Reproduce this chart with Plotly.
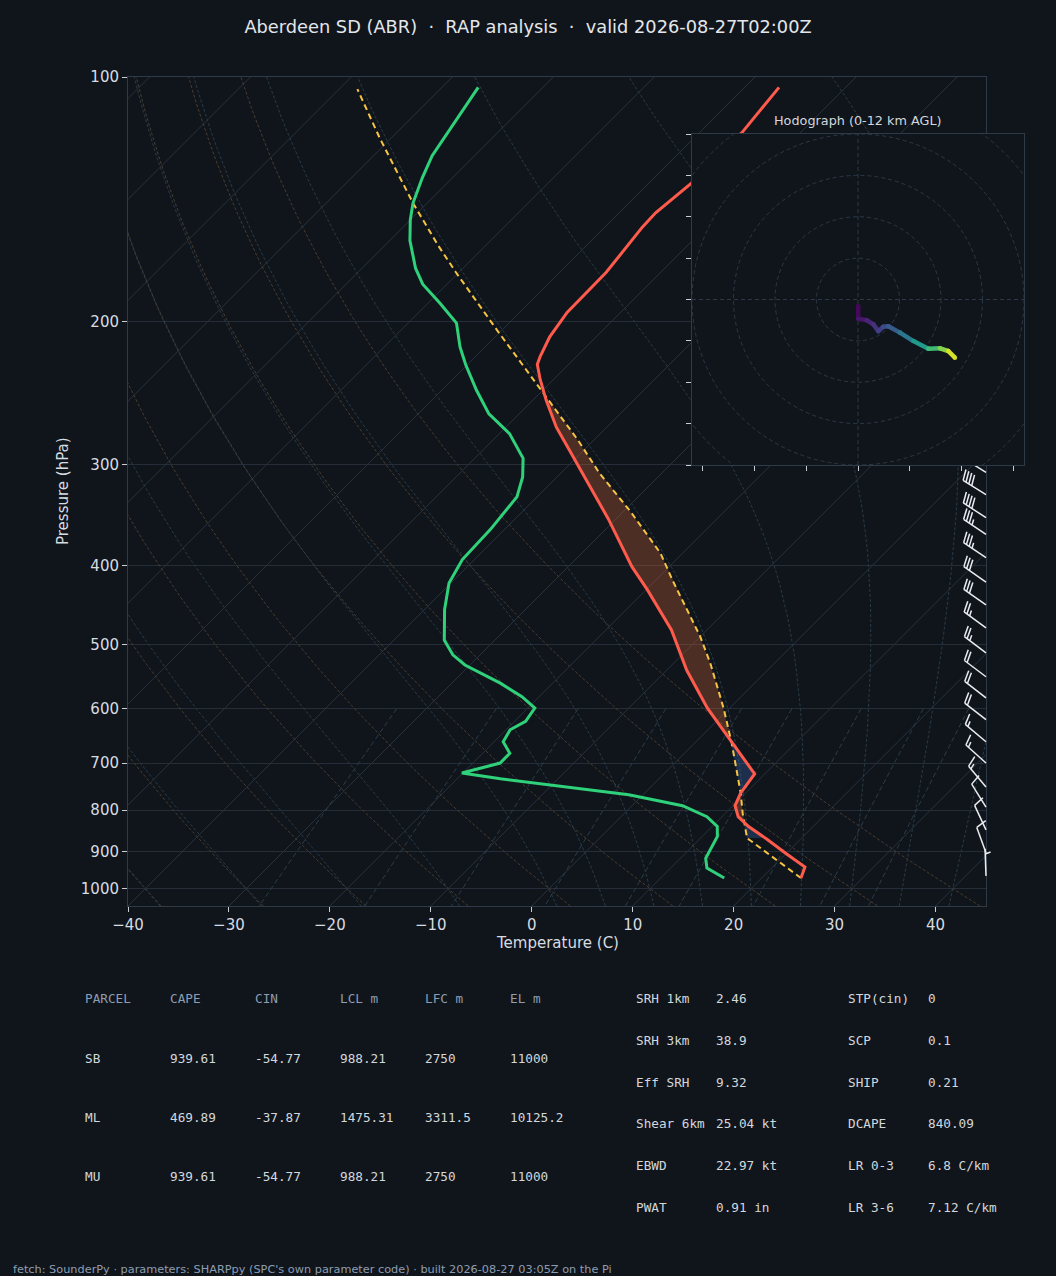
import numpy as np
import plotly.graph_objects as go
from plotly.colors import sample_colorscale

# ---- sounding (hPa, degC) ----
t_pres = [970, 940, 906, 870, 838, 815, 790, 762, 722, 655, 599, 538, 480, 428, 401,
          350, 314, 308, 291, 280, 270, 250, 236, 226, 221, 209, 195, 174, 153, 147,
          135, 117, 103]
t_temp = [23.9, 23.2, 20.1, 16.8, 13.6, 11.6, 10.2, 9.5, 9.0, 3.2, -2.2, -8.0, -13.5, -19.9, -23.7,
          -30.8, -36.8, -37.8, -40.9, -43.0, -45.0, -48.7, -51.3, -53.1, -53.6, -54.6, -55.3, -55.4, -56.3, -56.4,
          -55.8, -55.8, -56.6]

td_pres = [970, 943, 917, 862, 838, 815, 790, 766, 732, 720, 700, 681, 659, 637, 622,
           599, 580, 558, 530, 515, 494, 453, 420, 393, 361, 329, 311, 295, 275, 260,
           243, 226, 215, 201, 190, 180, 172, 159, 150, 143, 133, 125, 103]
td_temp = [16.3, 13.6, 12.5, 11.5, 10.5, 8.5, 5.0, -1.4, -15.7, -20.1, -17.3, -17.3, -19.1, -19.6, -18.9,
           -19.3, -21.7, -25.2, -30.5, -32.7, -35.0, -38.0, -40.2, -41.2, -41.4, -42.0, -43.4, -45.2, -49.0, -53.0,
           -56.6, -60.2, -62.5, -65.2, -68.8, -72.4, -74.7, -78.0, -80.0, -81.4, -83.0, -84.2, -86.4]

par_pres = [970, 866, 807, 762, 662, 599, 527, 489, 417, 386, 343, 308, 280, 245, 205,
            174, 161, 143, 119, 103.5]
par_temp = [23.9, 14.6, 11.7, 9.5, 3.7, -0.6, -6.4, -10.0, -18.3, -22.2, -29.3, -36.1, -41.6, -49.7, -60.5,
            -70.3, -74.8, -81.4, -91.1, -98.2]
lcl_pres = 866

# wind barbs (hPa, kt, deg)
barb_pres = [964, 903, 846, 793, 749, 700, 659, 619, 582, 548, 512, 477, 447, 419, 391, 366,
             349, 327, 307, 287, 269, 252, 236, 221, 207, 194, 182, 170, 160, 149, 140, 131]
barb_spd = [5, 10, 10, 10, 15, 15, 15, 20, 20, 20, 25, 25, 30, 30, 35, 35,
            40, 40, 40, 45, 45, 45, 50, 50, 50, 50, 55, 55, 50, 50, 45, 45]
barb_dir = [358, 340, 335, 328, 320, 312, 310, 308, 308, 307, 307, 306, 305, 305, 304, 304,
            303, 302, 302, 301, 301, 301, 300, 300, 300, 300, 300, 300, 300, 300, 300, 300]

# hodograph (kt) with height AGL (km)
hodo_u = [0.1, 0.1, 4.2, 7.4, 9.8, 12.2, 14.6, 20.2, 26.7, 33.9, 39.5, 43.5, 46.7]
hodo_v = [-3.2, -9.3, -10.0, -12.0, -15.3, -13.2, -12.9, -16.0, -20.1, -23.8, -23.6, -24.9, -28.1]
hodo_z = [0, 0.5, 1.0, 1.5, 2.0, 2.5, 3.0, 4.0, 5.5, 7.5, 9.0, 10.5, 12.0]

# parameter tables
tbl_head = ['PARCEL', 'CAPE', 'CIN', 'LCL m', 'LFC m', 'EL m']
tbl_rows = [['SB', '939.61', '-54.77', '988.21', '2750', '11000'],
            ['ML', '469.89', '-37.87', '1475.31', '3311.5', '10125.2'],
            ['MU', '939.61', '-54.77', '988.21', '2750', '11000']]
idx_lab1 = ['SRH 1km', 'SRH 3km', 'Eff SRH', 'Shear 6km', 'EBWD', 'PWAT']
idx_val1 = ['2.46', '38.9', '9.32', '25.04 kt', '22.97 kt', '0.91 in']
idx_lab2 = ['STP(cin)', 'SCP', 'SHIP', 'DCAPE', 'LR 0-3', 'LR 3-6']
idx_val2 = ['0', '0.1', '0.21', '840.09', '6.8 C/km', '7.12 C/km']

title = 'Aberdeen SD (ABR)\u00a0 ·\u00a0 RAP analysis\u00a0 ·\u00a0 valid 2026-08-27T02:00Z'
footer = "fetch: SounderPy · parameters: SHARPpy (SPC's own parameter code) · built 2026-08-27 03:05Z on the Pi"

# ---- geometry ----
BG = '#10151c'
FRAME = '#2e3a48'
W, H = 1056, 1276
L_M, R_M, T_M, B_M = 128, 32, 77, 370
PW, PH = W - L_M - R_M, H - T_M - B_M        # paper area 896 x 829
MAIN_W = 858
XMIN, XMAX = -40, 45
P_BOT, P_TOP = 1050, 100
px_per_c = MAIN_W / (XMAX - XMIN)
px_per_dec = PH / np.log10(P_BOT / P_TOP)
SKEW = px_per_dec / px_per_c   # 45 degree isotherms


def skew_x(t, p):
    return np.asarray(t, float) + SKEW * np.log10(P_BOT / np.asarray(p, float))


def interp_t(pnew, p, t):
    return np.interp(-np.log10(pnew), -np.log10(np.asarray(p, float)), t)


fig = go.Figure()

# ---- background lines ----
pp = np.logspace(np.log10(P_BOT), np.log10(P_TOP), 80)
for t0 in range(-130, 50, 10):
    fig.add_trace(go.Scatter(x=skew_x([t0, t0], [P_BOT, P_TOP]), y=[P_BOT, P_TOP], mode='lines',
                             line=dict(color='#29323c', width=1), hoverinfo='skip', showlegend=False))

for t0 in np.arange(-40, 46, 10):
    tt = (t0 + 273.15) * (pp / 1000.0) ** 0.2857 - 273.15
    fig.add_trace(go.Scatter(x=skew_x(tt, pp), y=pp, mode='lines',
                             line=dict(color='#4a3d2d', width=1, dash='3px,2px'),
                             hoverinfo='skip', showlegend=False))


def moist_rate(p, t):
    rd, cp, lv, eps = 287.04749, 1004.6662, 2.50084e6, 0.6219569
    tc = t - 273.15
    es = 6.112 * np.exp(17.67 * tc / (tc + 243.5))
    rs = eps * es / (p - es)
    return (rd * t + lv * rs) / (cp + lv * lv * rs * eps / (rd * t * t)) / p


def moist_adiabat(t0, plist):
    out = []
    t = t0 + 273.15
    p = 1000.0
    for target in plist:
        n = 20
        h = (target - p) / n
        for _ in range(n):
            k1 = moist_rate(p, t)
            k2 = moist_rate(p + h / 2, t + h / 2 * k1)
            k3 = moist_rate(p + h / 2, t + h / 2 * k2)
            k4 = moist_rate(p + h, t + h * k3)
            t += h / 6 * (k1 + 2 * k2 + 2 * k3 + k4)
            p += h
        out.append(t - 273.15)
    return np.array(out)


p_up = np.logspace(3, np.log10(P_TOP), 60)
for t0 in list(range(-40, 0, 10)) + list(range(0, 46, 5)):
    lo = moist_adiabat(t0, [1000.0, P_BOT])
    hi = moist_adiabat(t0, p_up)
    tt = np.concatenate([[lo[1]], hi])
    pq = np.concatenate([[P_BOT], p_up])
    fig.add_trace(go.Scatter(x=skew_x(tt, pq), y=pq, mode='lines',
                             line=dict(color='#283b47', width=1, dash='3px,2px'),
                             hoverinfo='skip', showlegend=False))

p_mix = np.linspace(600, P_BOT, 40)
for w in [0.0004, 0.001, 0.002, 0.004, 0.007, 0.01, 0.016, 0.024, 0.032]:
    e = p_mix * w / (0.6219569 + w)
    le = np.log(e / 6.112)
    td = 243.5 * le / (17.67 - le)
    fig.add_trace(go.Scatter(x=skew_x(td, p_mix), y=p_mix, mode='lines',
                             line=dict(color='#2a3d4a', width=1, dash='5px,3px'),
                             hoverinfo='skip', showlegend=False))

# ---- CAPE / CIN shading ----
grid = np.logspace(np.log10(lcl_pres), np.log10(200), 600)
env_g = interp_t(grid, t_pres, t_temp)
par_g = interp_t(grid, par_pres, par_temp)
diff = par_g - env_g
cross = [i for i in range(1, len(diff)) if diff[i - 1] > 0 >= diff[i]]
stop = cross[-1] + 1 if cross else len(diff)
grid, env_g, par_g, diff = grid[:stop], env_g[:stop], par_g[:stop], diff[:stop]
start = 0
for i in range(1, len(diff) + 1):
    if i == len(diff) or np.sign(diff[i]) != np.sign(diff[start]):
        j = min(i, len(diff) - 1)
        seg = slice(start, j + 1)
        xs = np.concatenate([skew_x(par_g[seg], grid[seg]), skew_x(env_g[seg], grid[seg])[::-1]])
        ys = np.concatenate([grid[seg], grid[seg][::-1]])
        col = 'rgba(209,98,55,0.32)' if diff[start] > 0 else 'rgba(59,104,181,0.32)'
        fig.add_trace(go.Scatter(x=xs, y=ys, mode='lines', fill='toself', fillcolor=col,
                                 line=dict(width=0), hoverinfo='skip', showlegend=False))
        start = i

# ---- profiles ----
fig.add_trace(go.Scatter(x=skew_x(par_temp, par_pres), y=par_pres, mode='lines',
                         line=dict(color='#f5c542', width=2, dash='6px,4px'), showlegend=False))
fig.add_trace(go.Scatter(x=skew_x(td_temp, td_pres), y=td_pres, mode='lines',
                         line=dict(color='#2fd27a', width=3), showlegend=False))
fig.add_trace(go.Scatter(x=skew_x(t_temp, t_pres), y=t_pres, mode='lines',
                         line=dict(color='#ff5b4c', width=3), showlegend=False))

# ---- wind barbs (matplotlib style geometry, drawn in pixels) ----
BL = 27.0
fh, fw, sp = 0.4 * BL, 0.25 * BL, 0.125 * BL
bx, by = [], []
for p0, spd, dd in zip(barb_pres, barb_spd, barb_dir):
    rad = np.radians(dd)
    u, v = -spd * np.sin(rad), -spd * np.cos(rad)
    th = np.arctan2(v, u) + np.pi / 2
    mag = 5 * round(spd / 5)
    nflag, nbarb, half = mag // 50, (mag % 50) // 10, (mag % 10) >= 5
    segs = [[(0, 0), (0, BL)]]
    off = BL
    for _ in range(nflag):
        segs.append([(0, off), (fh, off - fw / 2), (0, off - fw)])
        off -= fw + sp
    for _ in range(nbarb):
        segs.append([(0, off), (fh, off + fw / 2)])
        off -= sp
    if half:
        if off == BL:
            off -= 1.5 * sp
        segs.append([(0, off), (fh / 2, off + fw / 4)])
    for s in segs:
        for lx, ly in s:
            dx = lx * np.cos(th) - ly * np.sin(th)
            dy = lx * np.sin(th) + ly * np.cos(th)
            bx.append(XMAX + dx / px_per_c)
            by.append(p0 * 10 ** (-dy / px_per_dec))
        bx.append(None)
        by.append(None)
fig.add_trace(go.Scatter(x=bx, y=by, xaxis='x2', yaxis='y2', mode='lines',
                         line=dict(color='#e9edf1', width=1.5), hoverinfo='skip', showlegend=False))

# ---- hodograph ----
zf = np.array(hodo_z) / 12.0
for i in range(len(hodo_u) - 1):
    c = sample_colorscale('Viridis', [(zf[i] + zf[i + 1]) / 2])[0]
    fig.add_trace(go.Scatter(x=hodo_u[i:i + 2], y=hodo_v[i:i + 2], xaxis='x3', yaxis='y3',
                             mode='lines+markers', line=dict(color=c, width=4.5),
                             marker=dict(color=c, size=4.5), showlegend=False))

shapes = [dict(type='rect', xref='x3', yref='y3', x0=-80, x1=80, y0=-80, y1=80,
               fillcolor=BG, line=dict(width=0), layer='below')]
for r in [20, 40, 60, 80, 100]:
    shapes.append(dict(type='circle', xref='x3', yref='y3', x0=-r, x1=r, y0=-r, y1=r,
                       line=dict(color='#2c3846', width=1, dash='4px,3px'), layer='below'))
shapes.append(dict(type='line', xref='x3', yref='y3', x0=-80, x1=80, y0=0, y1=0,
                   line=dict(color='#2c3846', width=1, dash='4px,3px'), layer='below'))
shapes.append(dict(type='line', xref='x3', yref='y3', x0=0, x1=0, y0=-80, y1=80,
                   line=dict(color='#2c3846', width=1, dash='4px,3px'), layer='below'))

# ---- text ----
def px_x(x):
    return (x - L_M) / PW


def px_y(y):
    return (T_M + PH - y) / PH


ann = []
col_x = [83, 168, 253, 338, 423, 508]
row_y = [999, 1058, 1117, 1176]
mono = 'DejaVu Sans Mono'
for cx, h in zip(col_x, tbl_head):
    ann.append(dict(x=px_x(cx), y=px_y(row_y[0]), text=h, font=dict(family=mono, size=12.7, color='#8d9db2')))
for ry, row in zip(row_y[1:], tbl_rows):
    for cx, t in zip(col_x, row):
        ann.append(dict(x=px_x(cx), y=px_y(ry), text=t, font=dict(family=mono, size=12.7, color='#d3d8dd')))
for k in range(len(idx_lab1)):
    ry = 999 + k * 41.6
    for cx, t in zip([634, 714, 846, 926], [idx_lab1[k], idx_val1[k], idx_lab2[k], idx_val2[k]]):
        ann.append(dict(x=px_x(cx), y=px_y(ry), text=t, font=dict(family=mono, size=12.7, color='#d3d8dd')))
for a in ann:
    a.update(xref='paper', yref='paper', xanchor='left', yanchor='middle', showarrow=False)

ann.append(dict(x=px_x(11), y=px_y(1269), xref='paper', yref='paper', xanchor='left', yanchor='middle',
                text=footer, showarrow=False, font=dict(size=11.3, color='#8d9db2')))
ann.append(dict(x=px_x(858), y=px_y(120), xref='paper', yref='paper', xanchor='center', yanchor='middle',
                text='Hodograph (0-12 km AGL)', showarrow=False, font=dict(size=12.8, color='#d3d8dd')))
ann.append(dict(x=px_x(557), y=px_y(943), xref='paper', yref='paper', xanchor='center', yanchor='middle',
                text='Temperature (C)', showarrow=False, font=dict(size=15, color='#d7dce1')))
ann.append(dict(x=px_x(63), y=px_y(491), xref='paper', yref='paper', xanchor='center', yanchor='middle',
                text='Pressure (hPa)', textangle=-90, showarrow=False, font=dict(size=15, color='#d7dce1')))

xt = list(range(-40, 41, 10))
yt = [100, 200, 300, 400, 500, 600, 700, 800, 900, 1000]
fig.update_layout(
    width=W, height=H,
    margin=dict(l=L_M, r=R_M, t=T_M, b=B_M),
    paper_bgcolor=BG, plot_bgcolor='rgba(0,0,0,0)',
    font=dict(family='DejaVu Sans', color='#d7dce1'),
    title=dict(text=title, x=0.5, xref='container', y=1 - 27 / H, yref='container',
               xanchor='center', yanchor='middle', font=dict(size=17.8, color='#e3e7eb')),
    xaxis=dict(domain=[0, MAIN_W / PW], range=[XMIN, XMAX], tickvals=xt,
               ticktext=[str(t).replace('-', '\u2212') for t in xt],
               showgrid=False, zeroline=False, showline=True, mirror=True, linecolor=FRAME,
               ticks='outside', ticklen=5, tickcolor='#c8ced4', tickfont=dict(size=15, color='#d7dce1')),
    yaxis=dict(domain=[0, 1], type='log', range=[np.log10(P_BOT), np.log10(P_TOP)], tickvals=yt,
               ticktext=[str(t) for t in yt], showgrid=True, gridcolor='#252e38', gridwidth=1,
               zeroline=False, showline=True, mirror=True, linecolor=FRAME,
               ticks='outside', ticklen=5, tickcolor='#c8ced4', tickfont=dict(size=15, color='#d7dce1')),
    xaxis2=dict(domain=[0, 1], range=[XMIN, XMIN + PW / px_per_c], anchor='y2', visible=False),
    yaxis2=dict(domain=[0, 1], type='log', range=[np.log10(P_BOT), np.log10(P_TOP)], anchor='x2', visible=False),
    xaxis3=dict(domain=[px_x(692), 1.0], range=[-80, 80], anchor='y3', tickvals=list(range(-75, 76, 25)),
                showticklabels=False, ticks='outside', ticklen=5, tickcolor='#c8ced4',
                showgrid=False, zeroline=False, showline=True, mirror=True, linecolor=FRAME),
    yaxis3=dict(domain=[px_y(465), px_y(134)], range=[-80, 80], anchor='x3', tickvals=list(range(-80, 81, 20)),
                showticklabels=False, ticks='outside', ticklen=5, tickcolor='#c8ced4',
                showgrid=False, zeroline=False, showline=True, mirror=True, linecolor=FRAME),
    shapes=shapes,
    annotations=ann,
    showlegend=False,
    hovermode='closest',
    template='none',
)

# the page's default 8px body margin would shift the figure
fig.write_html('out.html', config={'displayModeBar': False},
               post_script="document.body.style.margin='0px';document.body.style.overflow='hidden';")
